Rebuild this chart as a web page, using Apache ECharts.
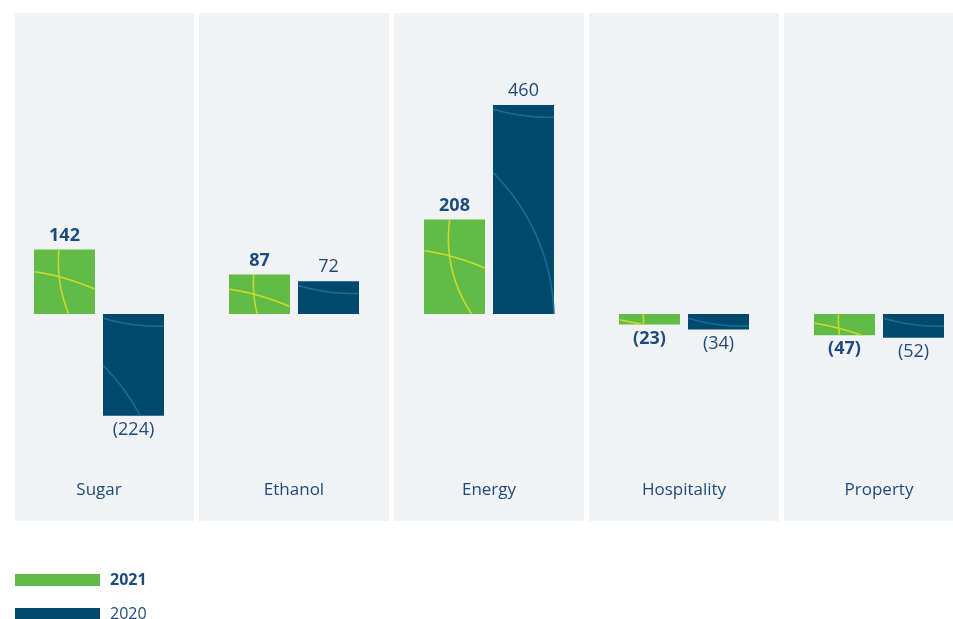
<!DOCTYPE html>
<html>
<head>
<meta charset="utf-8">
<script src="https://cdn.jsdelivr.net/npm/echarts@6/dist/echarts.min.js"></script>
<style>
  html, body { margin: 0; padding: 0; background: #fff; }
  #main { width: 953px; height: 619px; }
</style>
</head>
<body>
<div id="main"></div>
<script>
const categories = ["Sugar", "Ethanol", "Energy", "Hospitality", "Property"];
const values2021 = [142, 87, 208, -23, -47];
const values2020 = [-224, 72, 460, -34, -52];
const seriesNames = ["2021", "2020"];

const textColor = "#1e4b7d";
const green = "#62bb46";
const blue = "#014a6e";
const greenLine = "#c9da2c";
const blueLine = "#166d95";
const panelColor = "#f1f2f4";
const BAR_W = 61;
const BAR_GAP = 8;

function fmt(v) {
  return v < 0 ? "(" + Math.abs(v) + ")" : String(v);
}

function barData(values, bold) {
  return values.map((v) => ({
    value: v,
    label: {
      position: v < 0 ? "bottom" : "top",
      fontWeight: bold ? "bold" : "normal",
    },
  }));
}

function panelItem(params, api) {
  const center = api.coord([params.dataIndex, 0])[0];
  const band = api.size([1, 0])[0];
  const top = params.coordSys.y;
  const height = params.coordSys.height;
  let x0 = center - band / 2 + 2.5;
  const x1 = center + band / 2 - 2.5;
  x0 = Math.max(x0, 15);
  return {
    type: "rect",
    shape: { x: x0, y: top, width: x1 - x0, height: height },
    style: { fill: panelColor },
    silent: true,
  };
}

// circle sampled and clipped to a rectangle -> list of polylines
function clippedCircle(cx, cy, r, rect) {
  const segs = [];
  let cur = [];
  const n = 1440;
  for (let k = 0; k <= n; k++) {
    const a = (k / n) * Math.PI * 2;
    const px = cx + r * Math.cos(a);
    const py = cy + r * Math.sin(a);
    if (px >= rect.x && px <= rect.x + rect.w && py >= rect.y && py <= rect.y + rect.h) {
      cur.push([px, py]);
    } else if (cur.length) {
      segs.push(cur);
      cur = [];
    }
  }
  if (cur.length) segs.push(cur);
  return segs;
}

function arcRenderer(side, lineColor) {
  return function (params, api) {
    const i = api.value(0);
    const v = api.value(1);
    const base = api.coord([i, 0]);
    const end = api.coord([i, v]);
    const x = side < 0 ? base[0] - BAR_GAP / 2 - BAR_W : base[0] + BAR_GAP / 2;
    const y = Math.min(base[1], end[1]);
    const h = Math.abs(end[1] - base[1]);
    const rect = { x: x, y: y, w: BAR_W, h: h };
    const w = BAR_W;
    const circles = side < 0
      ? [
          [x - 0.6 * w, y + 0.3 * h + 4 * w, 4 * w],
          [x + 2.6 * w, y + 0.2 * h, 2.2 * w],
        ]
      : [
          [x - 2.4 * w, y + 0.15 * h + 3 * w, 3.4 * w],
          [x + 0.9 * w, y - 2.9 * w, 3.1 * w],
        ];
    const children = [];
    circles.forEach((c) => {
      clippedCircle(c[0], c[1], c[2], rect).forEach((pts) => {
        if (pts.length < 2) return;
        children.push({
          type: "polyline",
          shape: { points: pts },
          style: { stroke: lineColor, lineWidth: 1.6, fill: null },
          silent: true,
        });
      });
    });
    return { type: "group", children: children };
  };
}

function chartOption() {
  const legendText = {
    rich: {
      b: { color: textColor, fontSize: 16, fontWeight: "bold", fontFamily: "Open Sans", padding: [0, 0, 0, 5] },
      n: { color: textColor, fontSize: 16, fontFamily: "Open Sans", padding: [0, 0, 0, 5] },
    },
  };
  const legendBase = {
    left: 15,
    padding: 0,
    itemWidth: 85,
    itemHeight: 12,
    icon: "rect",
    formatter: (name) => (name === "2021" ? "{b|" + name + "}" : "{n|" + name + "}"),
    textStyle: legendText,
  };
  const barLabel = {
    show: true,
    distance: 5,
    color: textColor,
    fontSize: 18,
    fontFamily: "Open Sans",
    formatter: (p) => fmt(p.value),
  };
  return {
    animation: false,
    grid: { left: 1.5, width: 975, top: 13, bottom: 98, outerBoundsMode: "none", containLabel: false },
    xAxis: {
      type: "category",
      data: categories,
      axisLine: { show: false },
      axisTick: { show: false },
      axisLabel: {
        inside: true,
        margin: 22,
        color: textColor,
        fontSize: 17,
        fontFamily: "Open Sans",
      },
      z: 5,
    },
    yAxis: {
      type: "value",
      min: -455.6,
      max: 662.5,
      axisLine: { show: false },
      axisTick: { show: false },
      axisLabel: { show: false },
      splitLine: { show: false },
    },
    legend: [
      Object.assign({ top: 572, data: [seriesNames[0]] }, legendBase),
      Object.assign({ top: 606, data: [seriesNames[1]] }, legendBase),
    ],
    series: [
      {
        type: "custom",
        name: "panel",
        renderItem: panelItem,
        data: categories.map((c, i) => i),
        z: 0,
        silent: true,
      },
      {
        type: "bar",
        name: seriesNames[0],
        data: barData(values2021, true),
        barWidth: BAR_W,
        barGap: (BAR_GAP / BAR_W) * 100 + "%",
        itemStyle: { color: green },
        label: barLabel,
        z: 2,
      },
      {
        type: "bar",
        name: seriesNames[1],
        data: barData(values2020, false),
        barWidth: BAR_W,
        barGap: (BAR_GAP / BAR_W) * 100 + "%",
        itemStyle: { color: blue },
        label: barLabel,
        z: 2,
      },
      {
        type: "custom",
        name: "arcs2021",
        renderItem: arcRenderer(-1, greenLine),
        data: values2021.map((v, i) => [i, v]),
        z: 3,
        silent: true,
      },
      {
        type: "custom",
        name: "arcs2020",
        renderItem: arcRenderer(1, blueLine),
        data: values2020.map((v, i) => [i, v]),
        z: 3,
        silent: true,
      },
    ],
  };
}

addEventListener("load", () => {
  const chart = echarts.init(document.getElementById("main"));
  chart.setOption(chartOption());
});
</script>
</body>
</html>
